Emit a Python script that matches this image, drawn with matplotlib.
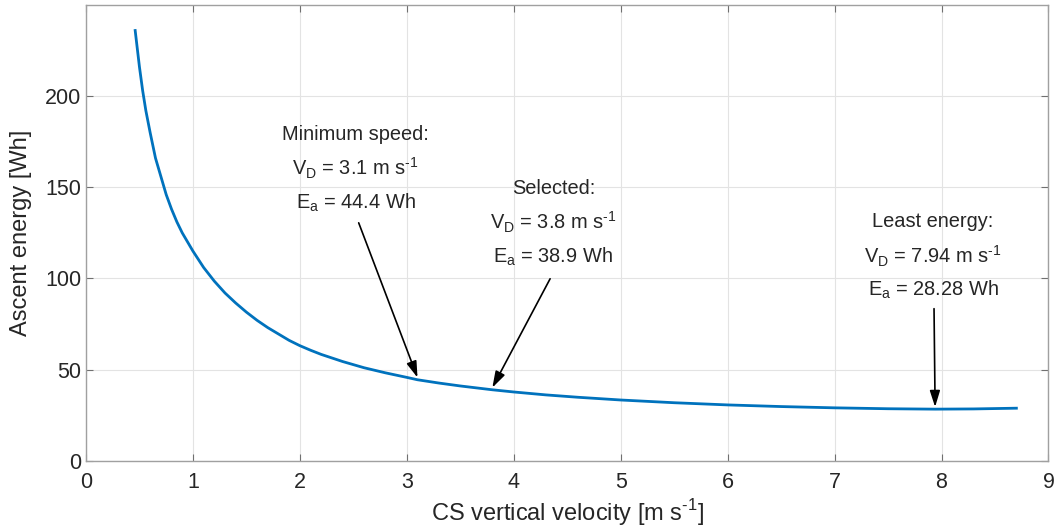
import matplotlib
matplotlib.use("Agg")
import matplotlib.pyplot as plt

# curve
velocity = [0.46, 0.48, 0.5, 0.53, 0.56, 0.6, 0.65, 0.7, 0.75, 0.8, 0.85, 0.9,
            0.95, 1.0, 1.1, 1.2, 1.3, 1.4, 1.5, 1.6, 1.7, 1.8, 1.9, 2.0, 2.1,
            2.2, 2.4, 2.6, 2.8, 3.0, 3.1, 3.3, 3.5, 3.8, 4.0, 4.3, 4.6, 5.0,
            5.5, 6.0, 6.5, 7.0, 7.5, 7.94, 8.3, 8.7]
energy = [236, 226, 216, 203, 192, 180, 166, 156, 146, 138, 131, 125,
          120, 115, 106, 98.5, 92, 86.5, 81.5, 77, 73, 69.5, 66, 63.1, 60.6,
          58.3, 54.4, 51, 48.2, 45.7, 44.4, 42.6, 41.0, 38.9, 37.7, 36.1, 34.8, 33.3,
          31.8, 30.6, 29.7, 29.0, 28.5, 28.28, 28.4, 28.8]

# annotated points
note_titles = ["Minimum speed:", "Selected:", "Least energy:"]
note_v = ["3.1", "3.8", "7.94"]
note_e = ["44.4", "38.9", "28.28"]
# text centre and arrow tail for each note
text_x = [2.52, 4.37, 7.92]
text_y = [179, 149.5, 131]
tail_x = [2.55, 4.34, 7.93]
tail_y = [130.5, 99.8, 83.4]

plt.rcParams['font.family'] = ['Liberation Sans', 'DejaVu Sans']
plt.rcParams['mathtext.fontset'] = 'custom'
plt.rcParams['mathtext.rm'] = 'Liberation Sans'
txt = '#262626'
sup = r"$^{\text{-}\mathregular{1}}$"

fig = plt.figure(figsize=(10.55, 5.31), dpi=100)
ax = fig.add_axes([0.0815, 0.1324, 0.9123, 0.8582])

ax.plot(velocity, energy, color='#0072BD', lw=2.0, solid_joinstyle='round')

for i in range(3):
    v = float(note_v[i])
    e = float(note_e[i])
    ax.text(text_x[i], text_y[i], note_titles[i], ha='center', va='center',
            fontsize=14.4, color=txt)
    ax.text(text_x[i], text_y[i] - 18.7, r"V$_\mathregular{D}$ = " + note_v[i] + " m s" + sup,
            ha='center', va='center', fontsize=14.4, color=txt)
    ax.text(text_x[i], text_y[i] - 37.5, r"E$_\mathregular{a}$ = " + note_e[i] + " Wh",
            ha='center', va='center', fontsize=14.4, color=txt)
    ax.annotate('', xy=(v, e + 1.2), xytext=(tail_x[i], tail_y[i]),
                arrowprops=dict(arrowstyle='-|>,head_length=0.7,head_width=0.22',
                                color='black', lw=1.2, mutation_scale=14,
                                shrinkA=0, shrinkB=0))

ax.set_xlim(0, 9)
ax.set_ylim(0, 250)
ax.set_xticks(range(0, 10))
ax.set_yticks([0, 50, 100, 150, 200])
ax.grid(True, color='#e3e3e3', lw=0.8)
ax.set_axisbelow(True)
for s in ax.spines.values():
    s.set_color('#a0a0a0')
    s.set_linewidth(1.0)
ax.tick_params(direction='in', length=5, color='#707070', labelsize=15.5,
               labelcolor=txt, top=True, right=True, labeltop=False, labelright=False)
ax.tick_params(axis='x', pad=8)
ax.set_xlabel("CS vertical velocity [m s" + sup + "]", fontsize=17, color=txt, labelpad=3)
ax.set_ylabel("Ascent energy [Wh]", fontsize=17, color=txt, labelpad=9)

fig.savefig("out.png", dpi=100)
